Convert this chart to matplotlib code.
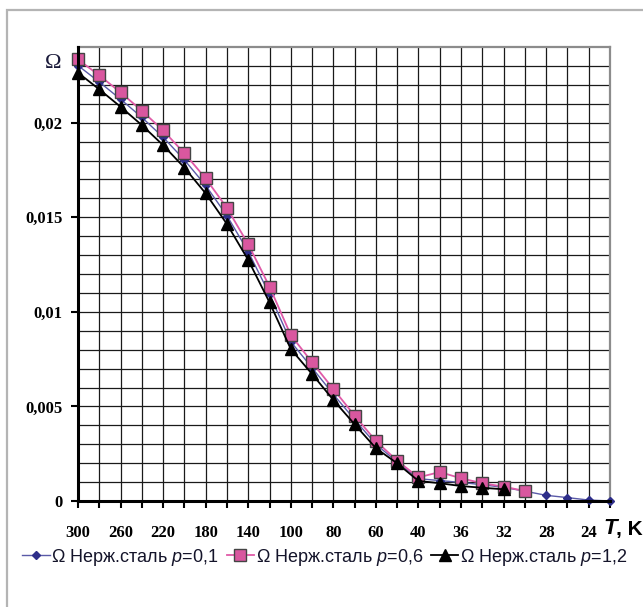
import numpy as np
import matplotlib.pyplot as plt
from matplotlib.patches import Rectangle

plt.rcParams['mathtext.fontset'] = 'custom'
plt.rcParams['mathtext.rm'] = 'Liberation Sans'
plt.rcParams['mathtext.it'] = 'Liberation Sans:italic'

# temperature steps, K (categorical axis)
temps = [300, 280, 260, 240, 220, 200, 180, 160, 140, 120, 100, 90, 80, 70,
         60, 50, 40, 38, 36, 34, 32, 30, 28, 26, 24, 22]

# Omega for stainless steel at three pressures
omega_p01 = [0.02302, 0.02215, 0.02124, 0.02028, 0.01923, 0.01803, 0.01668,
             0.01508, 0.01318, 0.01093, 0.00842, 0.00704, 0.00564, 0.00430,
             0.00300, 0.00206, 0.00118, 0.00108, 0.00098, 0.00086, 0.00072,
             0.00052, 0.00030, 0.00018, 0.00005, 0.0]
omega_p06 = [0.02334, 0.02250, 0.02160, 0.02063, 0.01959, 0.01838, 0.01705,
             0.01549, 0.01357, 0.01133, 0.00877, 0.00733, 0.00592, 0.00451,
             0.00317, 0.00213, 0.00125, 0.00153, 0.00120, 0.00094, 0.00076,
             0.00053]
omega_p12 = [0.02264, 0.02176, 0.02084, 0.01987, 0.01881, 0.01762, 0.01626,
             0.01464, 0.01274, 0.01050, 0.00803, 0.00671, 0.00534, 0.00405,
             0.00279, 0.00199, 0.00106, 0.00094, 0.00079, 0.00070, 0.00062]

W, H = 643, 607
fig = plt.figure(figsize=(W / 100, H / 100), dpi=100)
ax = fig.add_axes([78 / W, 1 - 501 / H, (610 - 78) / W, (501 - 47) / H])

# outer chart frame
fig.patches.append(Rectangle((7 / W, -0.2), 1.2, 1 - 10 / H + 0.2,
                             transform=fig.transFigure, fill=False,
                             edgecolor='#b4b4b4', lw=1.6))

x = np.arange(len(temps))

ax.plot(x[:len(omega_p01)], omega_p01, color='#5a5aa8', lw=1.0, marker='D',
        markersize=4.5, markerfacecolor='#2e2e8a', markeredgecolor='#2e2e8a',
        label='Ω Нерж.сталь $p$=0,1', zorder=3, clip_on=False)
ax.plot(x[:len(omega_p06)], omega_p06, color='#e05aa8', lw=1.3, marker='s',
        markersize=8, markerfacecolor='#d9579f', markeredgecolor='#444444',
        markeredgewidth=1.0, label='Ω Нерж.сталь $p$=0,6', zorder=4,
        clip_on=False)
ax.plot(x[:len(omega_p12)], omega_p12, color='black', lw=1.3, marker='^',
        markersize=8, markerfacecolor='black', markeredgecolor='black',
        label='Ω Нерж.сталь $p$=1,2', zorder=5, clip_on=False)

ax.set_xlim(0, len(temps) - 1)
ax.set_ylim(0, 0.024)

# grid: every category and every 0.001
for xv in range(1, len(temps) - 1):
    ax.axvline(xv, color='#1a1a1a', lw=0.9, zorder=1)
for yv in np.arange(1, 24) * 0.001:
    ax.axhline(yv, color='#1a1a1a', lw=0.9, zorder=1)

ax.set_xticks(x)
ax.set_xticklabels([str(t) if (i % 2 == 0 and i < len(temps) - 1) else ''
                    for i, t in enumerate(temps)])
yt = [0, 0.005, 0.01, 0.015, 0.02]
ax.set_yticks(yt)
ax.set_yticklabels(['0', '0,005', '0,01', '0,015', '0,02'])

ax.tick_params(axis='x', direction='out', length=5, width=1.5, pad=12)
ax.tick_params(axis='y', direction='out', length=5, width=1.5, pad=6)
for lab in ax.get_xticklabels() + ax.get_yticklabels():
    lab.set_fontfamily('Liberation Serif')
    lab.set_fontweight('bold')
    lab.set_fontsize(12)

for side in ('left', 'bottom'):
    ax.spines[side].set_linewidth(2.2)
    ax.spines[side].set_color('black')
    ax.spines[side].set_zorder(6)
for side in ('top', 'right'):
    ax.spines[side].set_linewidth(1.6)
    ax.spines[side].set_color('#8c8c8c')

# axis titles
fig.text(53 / W, 1 - 63 / H, 'Ω', family='Liberation Serif', fontsize=16,
         color='#1a1a3a', ha='center', va='center')
fig.text(617 / W, 1 - 529 / H, 'T', family='Liberation Sans', fontsize=16,
         fontweight='bold', style='italic', ha='right', va='center')
fig.text(616 / W, 1 - 529 / H, ', K', family='Liberation Sans', fontsize=15,
         fontweight='bold', ha='left', va='center')

leg = fig.legend(loc='center', bbox_to_anchor=(325 / W, 1 - 557 / H), ncol=3,
                 frameon=False, handlelength=1.5, handletextpad=0.1,
                 columnspacing=0.45, borderaxespad=0, borderpad=0,
                 prop={'family': 'Liberation Sans', 'size': 13})
for t in leg.get_texts():
    t.set_color('#14142a')

fig.savefig('out.png', dpi=100)
